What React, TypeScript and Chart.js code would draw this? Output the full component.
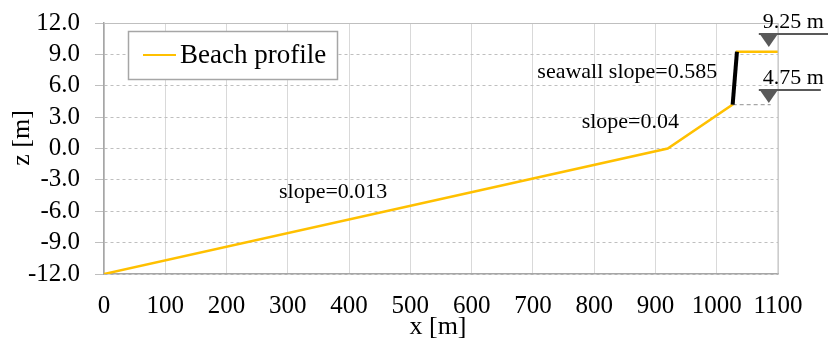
import React, { useEffect, useRef } from "react";
import { Chart, registerables } from "chart.js";

Chart.register(...registerables);

// ---- data ----
const profileX = [0, 920, 1026, 1033, 1100];
const profileZ = [-12, 0, 4.2, 9.25, 9.25];
const seawallX = [1026, 1033];
const seawallZ = [4.2, 9.25];
const toeExtX = [1026, 1088];
const toeExtZ = [4.2, 4.2];

const xTickMin = 0;
const xTickMax = 1100;
const xStep = 100;
const zTickMin = -12;
const zTickMax = 12;
const zStep = 3;

const slopeLabels = ["slope=0.013", "slope=0.04", "seawall slope=0.585"];
const slopeLabelX = [374, 859, 854];
const slopeLabelZ = [-4.16, 2.53, 7.31];

const levelLabels = ["9.25 m", "4.75 m"];
const levelMarkX = [1085, 1085];
const levelMarkZ = [9.7, 4.35];

const YELLOW = "#FFC000";
const SERIF = "'Liberation Serif', 'Times New Roman', serif";

const toPts = (xs: number[], zs: number[]) => xs.map((x, i) => ({ x, y: zs[i] }));

const annotPlugin = {
  id: "annot",
  afterDatasetsDraw(chart: any) {
    const { ctx, chartArea, scales } = chart;
    const xs = scales.x;
    const ys = scales.y;
    ctx.save();
    // border on top & right
    ctx.strokeStyle = "#BFBFBF";
    ctx.lineWidth = 1;
    ctx.setLineDash([]);
    ctx.beginPath();
    ctx.moveTo(chartArea.left, Math.round(chartArea.top) + 0.5);
    ctx.lineTo(chartArea.right, Math.round(chartArea.top) + 0.5);
    ctx.lineTo(chartArea.right, chartArea.bottom);
    ctx.stroke();

    // slope labels
    ctx.fillStyle = "#000";
    ctx.font = `22px ${SERIF}`;
    ctx.textAlign = "center";
    ctx.textBaseline = "middle";
    slopeLabels.forEach((t, i) => {
      ctx.fillText(t, xs.getPixelForValue(slopeLabelX[i]), ys.getPixelForValue(slopeLabelZ[i]));
    });

    // level markers
    levelLabels.forEach((t, i) => {
      const ax = xs.getPixelForValue(levelMarkX[i]);
      const ay = ys.getPixelForValue(levelMarkZ[i]);
      const topY = ay - 13;
      ctx.fillStyle = "#595959";
      ctx.beginPath();
      ctx.moveTo(ax, ay);
      ctx.lineTo(ax - 9, topY);
      ctx.lineTo(ax + 9, topY);
      ctx.closePath();
      ctx.fill();
      ctx.strokeStyle = "#595959";
      ctx.lineWidth = 2;
      ctx.beginPath();
      ctx.moveTo(ax - 10, topY);
      ctx.lineTo(ax + (i === 0 ? 62 : 52), topY);
      ctx.stroke();
      ctx.fillStyle = "#000";
      ctx.font = `22px ${SERIF}`;
      ctx.textAlign = "left";
      ctx.textBaseline = "middle";
      ctx.fillText(t, ax - 6, topY - 12);
    });

    // legend
    const lx = chartArea.left + 24;
    const ly = chartArea.top + 8;
    ctx.fillStyle = "#fff";
    ctx.fillRect(lx, ly, 209, 48);
    ctx.strokeStyle = "#A6A6A6";
    ctx.lineWidth = 1.5;
    ctx.strokeRect(lx + 0.5, ly + 0.5, 209, 48);
    const ds = chart.data.datasets[0];
    ctx.strokeStyle = ds.borderColor;
    ctx.lineWidth = 2;
    ctx.beginPath();
    ctx.moveTo(lx + 15, ly + 24);
    ctx.lineTo(lx + 48, ly + 24);
    ctx.stroke();
    ctx.fillStyle = "#000";
    ctx.font = `27px ${SERIF}`;
    ctx.textAlign = "left";
    ctx.textBaseline = "middle";
    ctx.fillText(ds.label, lx + 52, ly + 25);

    // axis titles
    ctx.font = `26px ${SERIF}`;
    ctx.textAlign = "center";
    ctx.fillText("x [m]", (chartArea.left + chartArea.right) / 2 - 3, 327);
    ctx.save();
    ctx.translate(22, 138);
    ctx.rotate(-Math.PI / 2);
    ctx.fillText("z [m]", 0, 0);
    ctx.restore();
    ctx.restore();
  },
};

export default function App() {
  const ref = useRef<HTMLCanvasElement>(null);
  useEffect(() => {
    if (!ref.current) return;
    const chart = new Chart(ref.current, {
      type: "scatter",
      data: {
        datasets: [
          {
            label: "Beach profile",
            data: toPts(profileX, profileZ),
            showLine: true,
            borderColor: YELLOW,
            backgroundColor: YELLOW,
            borderWidth: 2.5,
            pointRadius: 0,
            order: 3,
          },
          {
            label: "Seawall",
            data: toPts(seawallX, seawallZ),
            showLine: true,
            borderColor: "#000",
            borderWidth: 4,
            pointRadius: 0,
            order: 1,
          },
          {
            label: "toe",
            data: toPts(toeExtX, toeExtZ),
            showLine: true,
            borderColor: "#A6A6A6",
            borderWidth: 1.2,
            borderDash: [4, 3],
            pointRadius: 0,
            order: 2,
          },
        ],
      },
      options: {
        responsive: false,
        animation: false,
        layout: { padding: { top: 23, right: 50, left: 0, bottom: 0 } },
        plugins: { legend: { display: false }, tooltip: { enabled: false } },
        scales: {
          x: {
            type: "linear",
            min: xTickMin,
            max: xTickMax,
            ticks: {
              stepSize: xStep,
              padding: 17,
              color: "#000",
              autoSkip: false,
              font: { family: SERIF, size: 25 },
              maxRotation: 0,
              callback: (v: any) => String(v),
            },
            grid: { color: "#D9D9D9", drawTicks: false, lineWidth: 1 },
            border: { color: "#A6A6A6", width: 1.5 },
            afterFit: (s: any) => {
              s.height = 67;
              s.paddingLeft = 0;
              s.paddingRight = 0;
              s.paddingTop = 0;
              s.paddingBottom = 0;
            },
          },
          y: {
            type: "linear",
            min: zTickMin,
            max: zTickMax,
            ticks: {
              stepSize: zStep,
              padding: 15,
              color: "#000",
              autoSkip: false,
              font: { family: SERIF, size: 25 },
              callback: (v: any) => Number(v).toFixed(1),
            },
            grid: { color: "#BFBFBF", drawTicks: true, tickLength: 9, lineWidth: 1 },
            border: { color: "#A6A6A6", width: 1.5, dash: [3, 3] },
            afterFit: (s: any) => {
              s.width = 104;
              s.paddingLeft = 0;
              s.paddingRight = 0;
              s.paddingTop = 0;
              s.paddingBottom = 0;
            },
          },
        },
      },
      plugins: [annotPlugin],
    } as any);
    return () => chart.destroy();
  }, []);
  return (
    <div style={{ position: "absolute", left: 0, top: 0, width: 828, height: 341, background: "#fff" }}>
      <canvas ref={ref} width={828} height={341} />
    </div>
  );
}
